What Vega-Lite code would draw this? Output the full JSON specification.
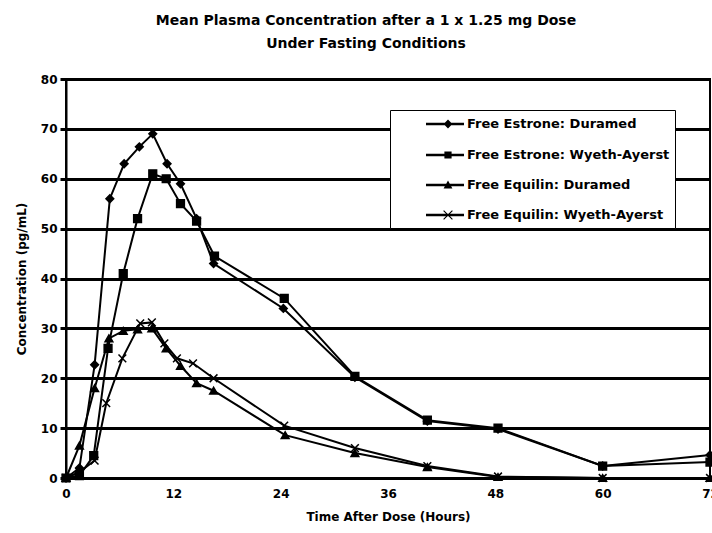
{
  "$schema": "https://vega.github.io/schema/vega-lite/v6.json",
  "width": 644,
  "height": 399,
  "autosize": {"type": "none"},
  "padding": {"left": 66, "top": 79, "right": 2, "bottom": 55},
  "background": "white",
  "title": {
    "text": ["Mean Plasma Concentration after a 1 x 1.25 mg Dose", "Under Fasting Conditions"],
    "font": "DejaVu Sans",
    "fontSize": 14,
    "fontWeight": "bold",
    "color": "black",
    "anchor": "middle",
    "dx": -22,
    "offset": 22,
    "lineHeight": 23
  },
  "config": {
    "view": {"stroke": "black", "strokeWidth": 2},
    "axis": {
      "labelFont": "DejaVu Sans",
      "labelFontWeight": "bold",
      "labelFontSize": 12,
      "labelColor": "black",
      "titleFont": "DejaVu Sans",
      "titleFontWeight": "bold",
      "titleFontSize": 12,
      "titleColor": "black"
    }
  },
  "data": {
    "values": [
      {"s": "Free Estrone: Duramed", "t": 0, "c": 0},
      {"s": "Free Estrone: Duramed", "t": 1.5, "c": 2},
      {"s": "Free Estrone: Duramed", "t": 3.2, "c": 22.7},
      {"s": "Free Estrone: Duramed", "t": 4.9, "c": 56},
      {"s": "Free Estrone: Duramed", "t": 6.5, "c": 63},
      {"s": "Free Estrone: Duramed", "t": 8.2, "c": 66.4},
      {"s": "Free Estrone: Duramed", "t": 9.7, "c": 69},
      {"s": "Free Estrone: Duramed", "t": 11.3, "c": 63},
      {"s": "Free Estrone: Duramed", "t": 12.8, "c": 59},
      {"s": "Free Estrone: Duramed", "t": 14.6, "c": 52},
      {"s": "Free Estrone: Duramed", "t": 16.5, "c": 43},
      {"s": "Free Estrone: Duramed", "t": 24.3, "c": 34},
      {"s": "Free Estrone: Duramed", "t": 32.3, "c": 20.2},
      {"s": "Free Estrone: Duramed", "t": 40.4, "c": 11.4},
      {"s": "Free Estrone: Duramed", "t": 48.3, "c": 9.8},
      {"s": "Free Estrone: Duramed", "t": 60, "c": 2.4},
      {"s": "Free Estrone: Duramed", "t": 72, "c": 4.6},
      {"s": "Free Estrone: Wyeth-Ayerst", "t": 0, "c": 0},
      {"s": "Free Estrone: Wyeth-Ayerst", "t": 1.5, "c": 0.5},
      {"s": "Free Estrone: Wyeth-Ayerst", "t": 3.1, "c": 4.5},
      {"s": "Free Estrone: Wyeth-Ayerst", "t": 4.7, "c": 26},
      {"s": "Free Estrone: Wyeth-Ayerst", "t": 6.4, "c": 41},
      {"s": "Free Estrone: Wyeth-Ayerst", "t": 8, "c": 52},
      {"s": "Free Estrone: Wyeth-Ayerst", "t": 9.7, "c": 61},
      {"s": "Free Estrone: Wyeth-Ayerst", "t": 11.2, "c": 60},
      {"s": "Free Estrone: Wyeth-Ayerst", "t": 12.8, "c": 55},
      {"s": "Free Estrone: Wyeth-Ayerst", "t": 14.6, "c": 51.5},
      {"s": "Free Estrone: Wyeth-Ayerst", "t": 16.6, "c": 44.5},
      {"s": "Free Estrone: Wyeth-Ayerst", "t": 24.4, "c": 36},
      {"s": "Free Estrone: Wyeth-Ayerst", "t": 32.3, "c": 20.4},
      {"s": "Free Estrone: Wyeth-Ayerst", "t": 40.4, "c": 11.6},
      {"s": "Free Estrone: Wyeth-Ayerst", "t": 48.3, "c": 10},
      {"s": "Free Estrone: Wyeth-Ayerst", "t": 60, "c": 2.4},
      {"s": "Free Estrone: Wyeth-Ayerst", "t": 72, "c": 3.2},
      {"s": "Free Equilin: Duramed", "t": 0, "c": 0},
      {"s": "Free Equilin: Duramed", "t": 1.5, "c": 6.5},
      {"s": "Free Equilin: Duramed", "t": 3.2, "c": 18},
      {"s": "Free Equilin: Duramed", "t": 4.8, "c": 28},
      {"s": "Free Equilin: Duramed", "t": 6.4, "c": 29.5},
      {"s": "Free Equilin: Duramed", "t": 8, "c": 29.8},
      {"s": "Free Equilin: Duramed", "t": 9.6, "c": 30},
      {"s": "Free Equilin: Duramed", "t": 11.2, "c": 26},
      {"s": "Free Equilin: Duramed", "t": 12.8, "c": 22.5},
      {"s": "Free Equilin: Duramed", "t": 14.6, "c": 19},
      {"s": "Free Equilin: Duramed", "t": 16.5, "c": 17.5},
      {"s": "Free Equilin: Duramed", "t": 24.5, "c": 8.6},
      {"s": "Free Equilin: Duramed", "t": 32.3, "c": 5},
      {"s": "Free Equilin: Duramed", "t": 40.4, "c": 2.2},
      {"s": "Free Equilin: Duramed", "t": 48.3, "c": 0.2},
      {"s": "Free Equilin: Duramed", "t": 60, "c": 0},
      {"s": "Free Equilin: Duramed", "t": 72, "c": 0},
      {"s": "Free Equilin: Wyeth-Ayerst", "t": 0, "c": 0},
      {"s": "Free Equilin: Wyeth-Ayerst", "t": 1.5, "c": 1.2},
      {"s": "Free Equilin: Wyeth-Ayerst", "t": 3.2, "c": 3.5},
      {"s": "Free Equilin: Wyeth-Ayerst", "t": 4.5, "c": 15},
      {"s": "Free Equilin: Wyeth-Ayerst", "t": 6.3, "c": 24},
      {"s": "Free Equilin: Wyeth-Ayerst", "t": 8.3, "c": 31},
      {"s": "Free Equilin: Wyeth-Ayerst", "t": 9.6, "c": 31.2},
      {"s": "Free Equilin: Wyeth-Ayerst", "t": 11, "c": 27},
      {"s": "Free Equilin: Wyeth-Ayerst", "t": 12.4, "c": 24},
      {"s": "Free Equilin: Wyeth-Ayerst", "t": 14.2, "c": 23},
      {"s": "Free Equilin: Wyeth-Ayerst", "t": 16.5, "c": 20},
      {"s": "Free Equilin: Wyeth-Ayerst", "t": 24.4, "c": 10.5},
      {"s": "Free Equilin: Wyeth-Ayerst", "t": 32.3, "c": 6},
      {"s": "Free Equilin: Wyeth-Ayerst", "t": 40.4, "c": 2.4},
      {"s": "Free Equilin: Wyeth-Ayerst", "t": 48.3, "c": 0.3},
      {"s": "Free Equilin: Wyeth-Ayerst", "t": 60, "c": 0},
      {"s": "Free Equilin: Wyeth-Ayerst", "t": 72, "c": 0}
    ]
  },
  "encoding": {
    "x": {
      "field": "t",
      "type": "quantitative",
      "scale": {"domain": [0, 72], "nice": false},
      "axis": {
        "values": [0, 12, 24, 36, 48, 60, 72],
        "title": "Time After Dose (Hours)",
        "grid": false,
        "domain": false,
        "ticks": false,
        "labelPadding": 10,
        "titlePadding": 12,
        "labelFlush": false
      }
    },
    "y": {
      "field": "c",
      "type": "quantitative",
      "scale": {"domain": [0, 80], "nice": false},
      "axis": {
        "values": [0, 10, 20, 30, 40, 50, 60, 70, 80],
        "title": "Concentration (pg/mL)",
        "grid": true,
        "gridColor": "black",
        "gridWidth": 3,
        "gridOpacity": 1,
        "domain": true,
        "domainColor": "black",
        "domainWidth": 2,
        "ticks": true,
        "tickColor": "black",
        "tickWidth": 3,
        "tickSize": 6,
        "labelPadding": 3,
        "titlePadding": 12
      }
    }
  },
  "resolve": {"scale": {"shape": "independent"}, "legend": {"shape": "independent"}},
  "layer": [
    {
      "mark": {"type": "line", "color": "black", "strokeWidth": 2},
      "encoding": {"detail": {"field": "s", "type": "nominal"}}
    },
    {
      "mark": {"type": "point", "filled": true, "color": "black", "stroke": "black", "strokeWidth": 1.5, "size": 60, "opacity": 1},
      "encoding": {
        "shape": {
          "field": "s",
          "type": "nominal",
          "scale": {
            "domain": ["Free Estrone: Duramed", "Free Estrone: Wyeth-Ayerst", "Free Equilin: Duramed", "Free Equilin: Wyeth-Ayerst"],
            "range": ["diamond", "square", "triangle-up", "M-1,-1L1,1M-1,1L1,-1"]
          },
          "legend": null
        }
      }
    },
    {
      "transform": [{"filter": "datum.c < -1"}],
      "mark": {"type": "point", "filled": true, "color": "black", "size": 256, "opacity": 1},
      "encoding": {
        "shape": {
          "field": "s",
          "type": "nominal",
          "scale": {
            "domain": ["Free Estrone: Duramed", "Free Estrone: Wyeth-Ayerst", "Free Equilin: Duramed", "Free Equilin: Wyeth-Ayerst"],
            "range": [
              "M2.75,-0.15H7.5V0.15H2.75ZM5.5,-0.55L6.05,0L5.5,0.55L4.95,0Z",
              "M2.75,-0.15H7.5V0.15H2.75ZM5.05,-0.45H5.95V0.45H5.05Z",
              "M2.75,-0.15H7.5V0.15H2.75ZM5.5,-0.55L6.05,0.45L4.95,0.45Z",
              "M2.75,-0.15H7.5V0.15H2.75ZM4.9,-0.5L5.0,-0.6L6.1,0.5L6.0,0.6ZM4.9,0.5L6.0,-0.6L6.1,-0.5L5.0,0.6Z"
            ]
          },
          "legend": {
            "title": null,
            "orient": "none",
            "legendX": 324,
            "legendY": 31,
            "padding": 5,
            "symbolSize": 256,
            "rowPadding": 14,
            "labelOffset": 54,
            "labelFont": "DejaVu Sans",
            "labelFontWeight": "bold",
            "labelFontSize": 13,
            "labelColor": "black",
            "labelLimit": 400,
            "strokeColor": "black",
            "fillColor": "white",
            "symbolOpacity": 1
          }
        }
      }
    }
  ]
}
